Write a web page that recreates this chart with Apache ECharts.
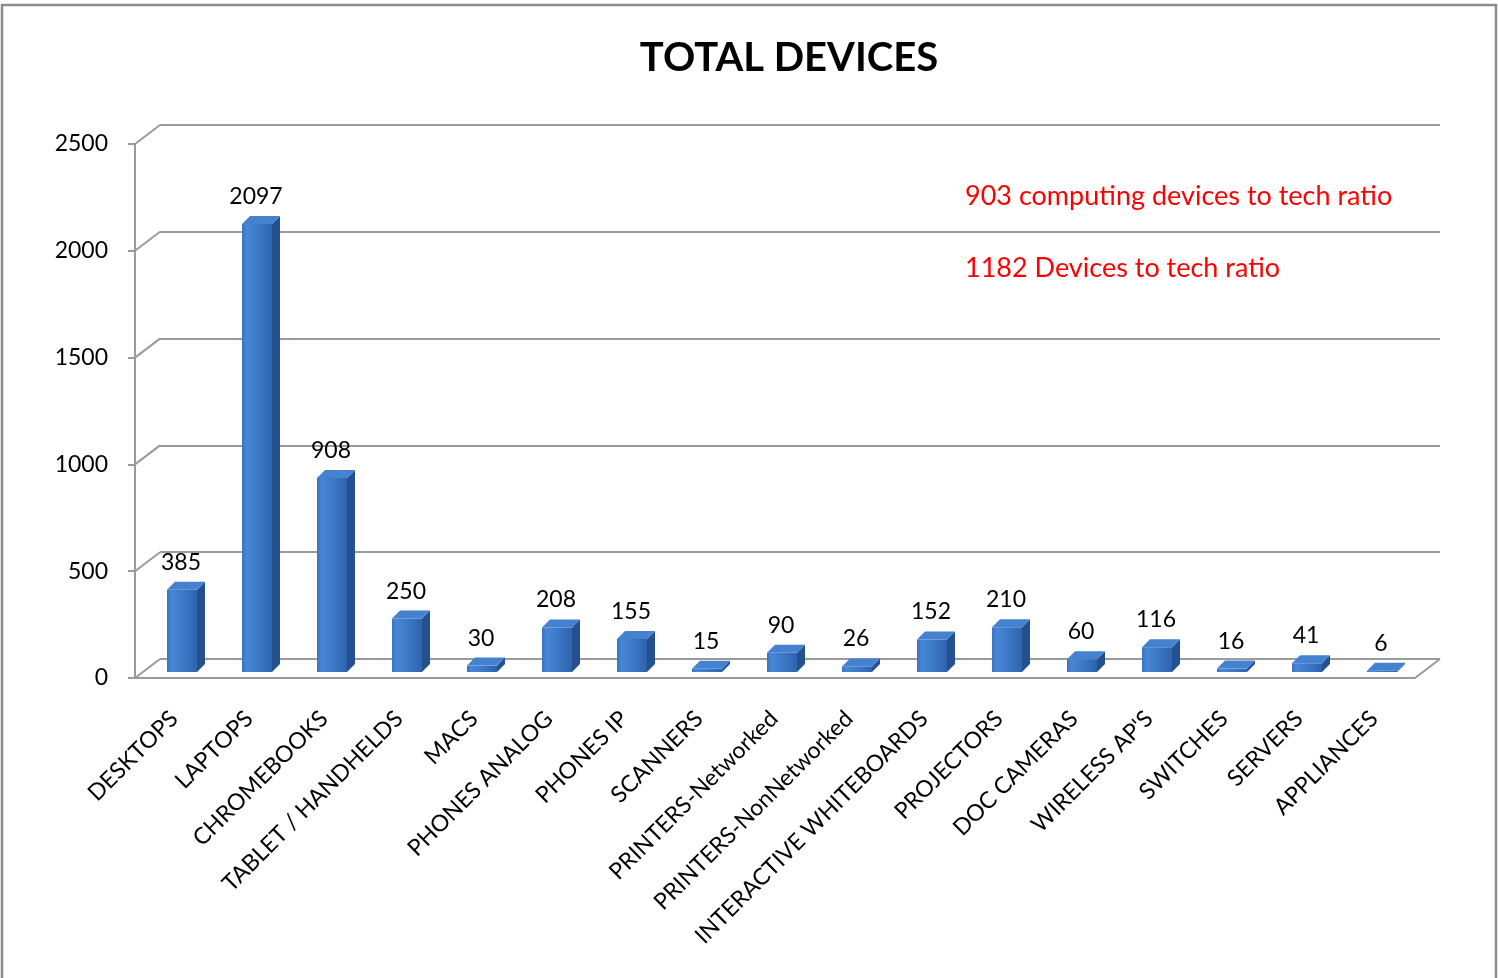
<!DOCTYPE html>
<html>
<head>
<meta charset="utf-8">
<script src="https://cdn.jsdelivr.net/npm/echarts@6/dist/echarts.min.js"></script>
<style>
html,body{margin:0;padding:0;background:#fff;}
#c{width:1498px;height:978px;}
</style>
</head>
<body>
<div id="c"></div>
<script>
const titleText = 'TOTAL DEVICES';
const categories = ['DESKTOPS','LAPTOPS','CHROMEBOOKS','TABLET / HANDHELDS','MACS','PHONES ANALOG','PHONES IP','SCANNERS','PRINTERS-Networked','PRINTERS-NonNetworked','INTERACTIVE WHITEBOARDS','PROJECTORS','DOC CAMERAS',"WIRELESS AP'S",'SWITCHES','SERVERS','APPLIANCES'];
const values = [385, 2097, 908, 250, 30, 208, 155, 15, 90, 26, 152, 210, 60, 116, 16, 41, 6];
const yTicks = [0, 500, 1000, 1500, 2000, 2500];
const notes = ['903 computing devices to tech ratio', '1182 Devices to tech ratio'];

const FONT = 'Lato';
const GRID_COLOR = '#9a9a9a';
const DX = 25, DY = 19; // depth offset front -> back

const chart = echarts.init(document.getElementById('c'));

function renderWall(params, api) {
  const v = api.value(1);
  const p = api.coord([0, v]);
  const children = [{
    type: 'line',
    shape: {x1: p[0] - DX, y1: p[1] + DY, x2: p[0], y2: p[1]},
    style: {stroke: GRID_COLOR, lineWidth: 2}
  }];
  if (v === 0) {
    const q = api.coord([1, 0]);
    children.push({
      type: 'line',
      shape: {x1: q[0] - DX, y1: q[1] + DY, x2: q[0], y2: q[1]},
      style: {stroke: GRID_COLOR, lineWidth: 2}
    });
  }
  return {type: 'group', children};
}

function renderBar(params, api) {
  const i = api.value(0), v = api.value(1);
  const base = api.coord([i, 0]);
  const top = api.coord([i, v]);
  const hw = 15, dx = 8, dy = 8;
  const cx = base[0];
  const xl = cx - hw, xr = cx + hw;
  const yt = top[1], yb = base[1];
  const frontGrad = new echarts.graphic.LinearGradient(0, 0, 1, 0, [
    {offset: 0, color: '#3a73c0'},
    {offset: 0.15, color: '#4786d6'},
    {offset: 0.6, color: '#3a76c4'},
    {offset: 1, color: '#2e62ac'}
  ]);
  return {
    type: 'group',
    children: [
      {type: 'polygon', shape: {points: [[xr, yt], [xr + dx, yt - dy], [xr + dx, yb - dy], [xr, yb]]},
       style: {fill: '#24508d'}},
      {type: 'rect', shape: {x: xl, y: yt, width: 2 * hw, height: Math.max(yb - yt, 0.5)},
       style: {fill: frontGrad}},
      {type: 'polygon', shape: {points: [[xl, yt], [xl + dx, yt - dy], [xr + dx, yt - dy], [xr, yt]]},
       style: {fill: '#4482d0'}},
      {type: 'text', style: {x: cx - 1, y: yt - dy - 8, text: String(v), fill: '#000',
        font: '23px ' + FONT, textAlign: 'center', textVerticalAlign: 'bottom'}}
    ]
  };
}

const option = {
  animation: false,
  backgroundColor: '#fff',
  title: {
    text: titleText,
    left: 784, top: 33, textAlign: 'center',
    textStyle: {fontFamily: FONT, fontWeight: 'bold', fontSize: 40, color: '#000'}
  },
  grid: [
    {left: 160, right: 58, top: 125, bottom: 319},    // back wall
    {left: 135, right: 83, top: 144, bottom: 300},    // front frame
    {left: 144.5, right: 78.5, top: 138, bottom: 306}, // bars (mid depth)
    {left: 136.5, right: 86.5, top: 138, bottom: 306}  // category labels
  ],
  xAxis: [
    {gridIndex: 0, type: 'value', min: 0, max: 1, show: false},
    {gridIndex: 1, type: 'value', min: 0, max: 1,
     axisLine: {show: true, lineStyle: {color: GRID_COLOR, width: 2}},
     axisTick: {show: false}, axisLabel: {show: false}, splitLine: {show: false}},
    {gridIndex: 2, type: 'category', data: categories, show: false},
    {gridIndex: 3, type: 'category', data: categories,
     axisLine: {show: false}, axisTick: {show: false},
     axisLabel: {interval: 0, rotate: 45, margin: 43, fontFamily: FONT, fontSize: 23, color: '#000'}}
  ],
  yAxis: [
    {gridIndex: 0, type: 'value', min: 0, max: 2500, interval: 500,
     axisLine: {show: false}, axisTick: {show: false}, axisLabel: {show: false},
     splitLine: {show: true, lineStyle: {color: GRID_COLOR, width: 2}}},
    {gridIndex: 1, type: 'value', min: 0, max: 2500, interval: 500,
     axisLine: {show: true, lineStyle: {color: GRID_COLOR, width: 2}},
     axisTick: {show: true, length: 7, lineStyle: {color: GRID_COLOR, width: 2}},
     axisLabel: {margin: 27, fontFamily: FONT, fontSize: 23, color: '#000', padding: [5, 0, 0, 0],
       formatter: v => String(v)},
     splitLine: {show: false}},
    {gridIndex: 2, type: 'value', min: 0, max: 2500, show: false},
    {gridIndex: 3, type: 'value', min: 0, max: 2500, show: false}
  ],
  series: [
    {type: 'custom', xAxisIndex: 0, yAxisIndex: 0, renderItem: renderWall,
     data: yTicks.map(v => [0, v]), silent: true, z: 1},
    {type: 'custom', xAxisIndex: 2, yAxisIndex: 2, renderItem: renderBar,
     data: values.map((v, i) => [i, v]), z: 5}
  ],
  graphic: [
    {type: 'rect', shape: {x: 2, y: 5, width: 1494, height: 990},
     style: {fill: 'none', stroke: '#8c8c8c', lineWidth: 2.5}, silent: true, z: 0},
    {type: 'text', left: 965, top: 183, style: {text: notes[0], fill: '#ff0000', font: '27px ' + FONT}},
    {type: 'text', left: 965, top: 255, style: {text: notes[1], fill: '#ff0000', font: '27px ' + FONT}}
  ]
};
chart.setOption(option);
</script>
</body>
</html>
